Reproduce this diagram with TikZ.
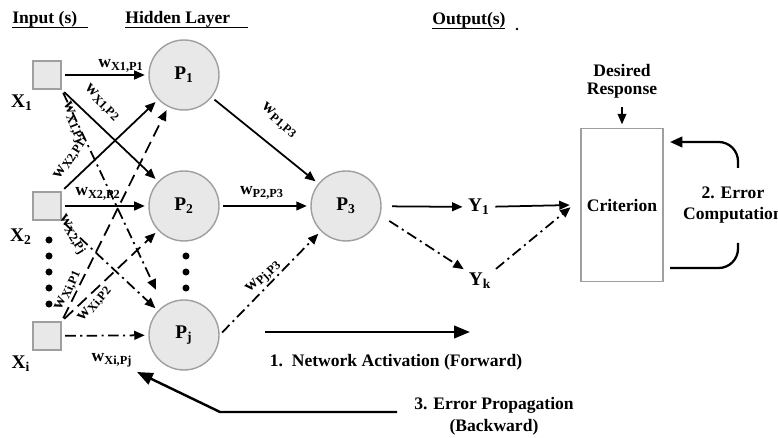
\documentclass[tikz,border=0pt]{standalone}
\usepackage{fontspec}
\setmainfont{Liberation Serif}
\usetikzlibrary{arrows.meta,positioning}
\colorlet{nodeGray}{gray!18}
\colorlet{rimGray}{gray!75}

\begin{document}
\begin{tikzpicture}[
    x=0.02cm, y=-0.02cm,
    font=\fontsize{10}{11.5}\selectfont\bfseries,
    neuron/.style={
        circle,
        minimum size=1.4cm,
        inner sep=0,
        draw=rimGray,
        line width=0.8pt,
        fill=nodeGray,
        font=\fontsize{11}{13}\selectfont\bfseries,
      },
    inbox/.style={rectangle, minimum size=0.56cm, inner sep=0, draw=rimGray, line width=0.8pt, fill=nodeGray},
    lbl/.style={font=\fontsize{11}{13}\selectfont\bfseries, inner sep=1pt},
    wt/.style={inner sep=0.5pt},
    con/.style={line width=1pt, -{Triangle[length=6pt, width=5pt]}, shorten <=2pt, shorten >=2pt},
    bigarr/.style={line width=1.4pt, -{Triangle[length=9pt, width=7pt]}},
    looparr/.style={line width=1.3pt, rounded corners=11pt},
    ddot/.style={dash pattern=on 6pt off 2.5pt on 1.2pt off 2.5pt},
    ldash/.style={dash pattern=on 7pt off 3.5pt},
    uline/.style={line width=0.9pt},
  ]
  \useasboundingbox (0,0) rectangle (778,438);

  % headings
  \node[anchor=base west, inner sep=0] (inHead) at (12,24) {Input (s)};
  \node[anchor=base west, inner sep=0] (hidHead) at (125,24) {Hidden Layer};
  \node[anchor=base west, inner sep=0] (outHead) at (432,25) {Output(s)};
  \draw[uline] ([yshift=-2pt]inHead.base west) -- ++(76,0);
  \draw[uline] ([yshift=-2pt]hidHead.base west) -- ++(123,0);
  \draw[uline] ([yshift=-2pt]outHead.base west) -- ++(73,0);
  \fill (517,29) circle (0.8pt);

  % inputs
  \node[inbox] (X1) at (47,75) {};
  \node[inbox] (X2) at (47,206) {};
  \node[inbox] (Xi) at (47,336) {};
  \node[lbl] (X1lab) at (22,103) {X\textsubscript{1}};
  \node[lbl] (X2lab) at (21,237) {X\textsubscript{2}};
  \node[lbl] (Xilab) at (21,364) {X\textsubscript{i}};
  \foreach \y in {240,256,272,288,304}
    \fill (49,\y) circle (2pt);

  % neurons
  \node[neuron] (P1) at (184,75) {P\textsubscript{1}};
  \node[neuron] (P2) at (184,206) {P\textsubscript{2}};
  \node[neuron] (Pj) at (184,335) {P\textsubscript{j}};
  \node[neuron] (P3) at (346,206) {P\textsubscript{3}};
  \foreach \y in {256,272,288}
    \fill (186,\y) circle (2pt);

  % outputs and criterion
  \node[lbl] (Y1) at (479,207) {Y\textsubscript{1}};
  \node[lbl] (Yk) at (480,281) {Y\textsubscript{k}};
  \node[draw=rimGray, line width=0.8pt, minimum width=1.5cm, minimum height=3.06cm] (crit) at (622,205) {Criterion};
  \node[align=center, font=\fontsize{10}{10}\selectfont\bfseries] (resp) at (622,81) {Desired\\Response};
  \node[align=center] (errC) at (733,205) {2. Error\\Computation};
  \coordinate (cin) at ([xshift=-4pt]crit.west);

  % input -> hidden
  \draw[con] (X1) -- (P1);
  \draw[con] (X1.south east) -- (P2);
  \draw[con, ddot, shorten >=10pt] (X1.south east) -- (Pj.125);
  \draw[con] (X2.north east) -- (P1);
  \draw[con] (X2) -- (P2);
  \draw[con, ddot] (X2.south east) -- (Pj);
  \draw[con, ldash] (Xi.north east) -- (P1);
  \draw[con, ldash] (Xi.north east) -- (P2);
  \draw[con, ddot] (Xi) -- (Pj);

  \node[wt] (wX1P1) at (121,66) {w\textsubscript{X1,P1}};
  \node[wt, rotate=-45] (wX1P2) at (102,103) {w\textsubscript{X1,P2}};
  \node[wt, rotate=-68] (wX1Pj) at (73,123) {w\textsubscript{X1,Pj}};
  \node[wt, rotate=58] (wX2P1) at (70,159) {w\textsubscript{X2,P1}};
  \node[wt] (wX2P2) at (98,194) {w\textsubscript{X2,P2}};
  \node[wt, rotate=-58] (wX2Pj) at (72,235) {w\textsubscript{X2,Pj}};
  \node[wt, rotate=66] (wXiP1) at (68,290) {w\textsubscript{Xi,P1}};
  \node[wt, rotate=50] (wXiP2) at (95,304) {w\textsubscript{Xi,P2}};
  \node[wt] (wXiPj) at (112,360) {w\textsubscript{Xi,Pj}};

  % hidden -> output
  \draw[con] (P1) -- (P3);
  \draw[con] (P2) -- (P3);
  \draw[con, ddot] (Pj.east) -- (P3.225);
  \node[wt, rotate=-41] (wP1P3) at (279,121) {w\textsubscript{P1,P3}};
  \node[wt] (wP2P3) at (262,193) {w\textsubscript{P2,P3}};
  \node[wt, rotate=43] (wPjP3) at (264,277) {w\textsubscript{Pj,P3}};

  \draw[con, shorten <=6pt] (P3) -- (Y1);
  \draw[con, ddot, shorten <=6pt] (P3.-15) -- (Yk.north west);
  \draw[con] (Y1) -- (cin);
  \draw[con, ddot] (Yk.north east) -- (cin);
  \draw[con, line width=0.8pt] (resp) -- (crit);

  % error loop
  \coordinate (eTop) at (738,168);
  \coordinate (eTopEnd) at (670,142);
  \coordinate (eBot) at (738,243);
  \coordinate (eBotEnd) at (670,268);
  \draw[looparr, -{Triangle[length=7pt, width=6pt]}] (eTop) |- (eTopEnd);
  \draw[looparr] (eBot) |- (eBotEnd);

  % forward / backward
  \coordinate (fwdStart) at (265,332);
  \coordinate (fwdEnd) at (470,332);
  \draw[bigarr] (fwdStart) -- (fwdEnd);
  \node (fwdLab) at (396,362) {1.\ \ Network Activation (Forward)};

  \coordinate (bwdStart) at (397,412);
  \coordinate (bwdBend) at (220,412);
  \coordinate (bwdEnd) at (137,372);
  \draw[bigarr] (bwdStart) -- (bwdBend) -- (bwdEnd);
  \node[align=center, font=\fontsize{10}{12.5}\selectfont\bfseries] (bwdLab) at (494,416) {3. Error Propagation\\(Backward)};
\end{tikzpicture}
\end{document}
